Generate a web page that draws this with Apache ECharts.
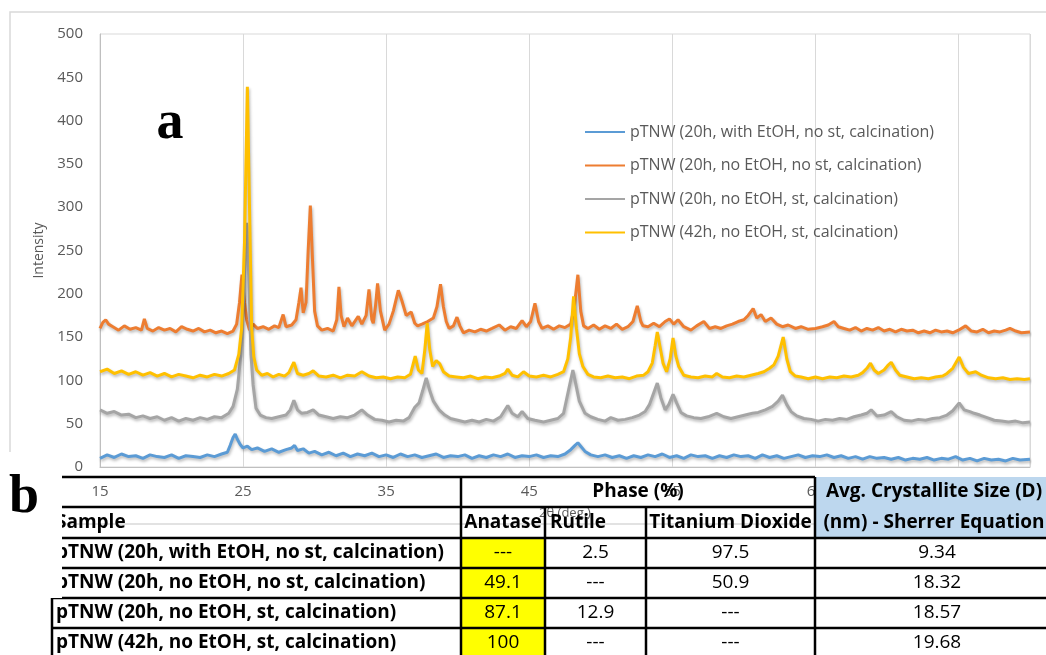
<!DOCTYPE html>
<html>
<head>
<meta charset="utf-8">
<script src="https://cdn.jsdelivr.net/npm/echarts@6/dist/echarts.min.js"></script>
<style>
  html, body { margin: 0; padding: 0; background: #ffffff; }
  #chart { width: 1046px; height: 655px; }
</style>
</head>
<body>
<div id="chart"></div>
<script>
// ---- Samples (legend entries and table rows) ----
const samples = [
  'pTNW (20h, with EtOH, no st, calcination)',
  'pTNW (20h, no EtOH, no st, calcination)',
  'pTNW (20h, no EtOH, st, calcination)',
  'pTNW (42h, no EtOH, st, calcination)'
];
const seriesColors = ['#5b9bd5', '#ed7d31', '#a5a5a5', '#ffc000'];

// ---- X axis: 2θ tick labels (first gridline sits at 15°) ----
const X0 = 15;
const xTickLabels = ['15', '25', '35', '45', '55', '65', '75'];

// ---- XRD patterns: [2θ (deg), intensity] ----
const ethanol20h = [
  [15,10],[15.5,14],[16,11],[16.5,15],[17,12],[17.5,13],[18,10],[18.5,14],[19,12],[19.5,11],
  [20,14],[20.5,10],[21,13],[21.5,12],[22,11],[22.5,14],[23,12],[23.5,15],[23.9,17],[24.1,25],
  [24.3,34],[24.45,38],[24.6,32],[24.8,26],[25,22],[25.3,24],[25.6,20],[26,22],[26.5,18],[27,21],
  [27.5,17],[28,20],[28.4,22],[28.6,25],[28.8,19],[29.2,21],[29.6,16],[30,18],[30.5,14],[31,17],
  [31.5,13],[32,16],[32.5,12],[33,15],[33.5,13],[34,16],[34.5,12],[35,14],[35.5,11],[36,15],
  [36.5,12],[37,14],[37.5,11],[38,13],[38.5,15],[39,11],[39.5,13],[40,12],[40.5,14],[41,10],
  [41.5,13],[42,11],[42.5,14],[43,12],[43.5,15],[44,11],[44.5,13],[45,12],[45.5,14],[46,11],
  [46.5,13],[47,12],[47.5,15],[47.9,20],[48.2,25],[48.4,28],[48.6,24],[48.9,18],[49.3,14],[49.8,12],
  [50.3,14],[50.8,11],[51.3,13],[51.8,10],[52.3,13],[52.8,11],[53.3,14],[53.8,12],[54.3,15],[54.8,11],
  [55.3,13],[55.8,10],[56.3,14],[56.8,12],[57.3,13],[57.8,10],[58.3,13],[58.8,11],[59.3,14],[59.8,12],
  [60.3,13],[60.8,10],[61.3,14],[61.8,11],[62.3,13],[62.8,10],[63.3,12],[63.8,14],[64.3,11],[64.8,13],
  [65.3,12],[65.8,14],[66.3,11],[66.8,13],[67.3,10],[67.8,12],[68.3,9],[68.8,12],[69.3,10],[69.8,11],
  [70.3,9],[70.8,11],[71.3,8],[71.8,10],[72.3,9],[72.8,11],[73.3,8],[73.8,10],[74.3,9],[74.8,12],
  [75.3,8],[75.8,10],[76.3,7],[76.8,10],[77.3,8],[77.8,9],[78.3,7],[78.8,10],[79.3,8],[80,9]
];
const noEthanol20h = [
  [15,160],[15.2,167],[15.4,170],[15.6,165],[15.9,162],[16.3,158],[16.7,163],[17.1,159],[17.5,161],[17.9,158],
  [18.1,171],[18.3,160],[18.7,157],[19.1,161],[19.5,158],[19.9,160],[20.3,156],[20.7,162],[21.1,159],[21.5,157],
  [21.9,160],[22.3,156],[22.7,158],[23.1,155],[23.5,157],[23.9,154],[24.3,157],[24.55,165],[24.75,190],[24.92,222],
  [25.1,190],[25.25,170],[25.45,158],[25.7,165],[26,160],[26.4,162],[26.8,159],[27.2,163],[27.5,161],[27.8,176],
  [28,162],[28.4,164],[28.7,170],[28.9,190],[29.05,207],[29.2,178],[29.4,190],[29.55,250],[29.7,302],[29.85,240],
  [30,180],[30.2,163],[30.5,158],[30.9,160],[31.3,157],[31.55,170],[31.7,208],[31.85,175],[32.05,162],[32.3,172],
  [32.6,163],[33.05,174],[33.3,165],[33.6,175],[33.8,205],[34,170],[34.1,166],[34.25,185],[34.4,212],[34.6,180],
  [34.9,158],[35.2,165],[35.5,180],[35.85,204],[36.1,192],[36.4,175],[36.75,179],[37,166],[37.2,163],[37.5,165],
  [37.9,168],[38.3,172],[38.55,185],[38.8,211],[39,185],[39.2,168],[39.4,160],[39.7,163],[39.95,173],[40.15,163],
  [40.4,155],[40.8,158],[41.2,156],[41.6,159],[42,157],[42.4,160],[42.9,164],[43.3,158],[43.7,162],[44.1,160],
  [44.5,169],[44.8,162],[45.1,168],[45.4,189],[45.65,168],[45.9,160],[46.3,163],[46.7,159],[47.1,163],[47.5,161],
  [47.9,165],[48.15,185],[48.4,222],[48.6,180],[48.8,163],[49.1,160],[49.5,164],[49.9,159],[50.3,163],[50.7,160],
  [51.1,165],[51.5,159],[51.9,162],[52.25,168],[52.55,186],[52.8,168],[52.95,163],[53.3,162],[53.7,166],[54.1,162],
  [54.5,168],[54.8,171],[55.1,165],[55.4,170],[55.8,162],[56.3,158],[56.7,163],[57.2,168],[57.6,160],[58,162],
  [58.4,160],[58.8,163],[59.2,165],[59.6,168],[60,170],[60.3,175],[60.65,183],[60.9,172],[61.2,176],[61.5,168],
  [61.9,172],[62.3,165],[62.7,162],[63.1,164],[63.6,160],[64,162],[64.5,159],[65,160],[65.5,162],[65.9,164],
  [66.3,168],[66.6,162],[67,160],[67.4,158],[67.8,161],[68.2,157],[68.6,160],[69,158],[69.4,161],[69.8,157],
  [70.2,159],[70.6,156],[71,159],[71.4,157],[71.8,158],[72.2,155],[72.6,157],[73,155],[73.4,158],[73.8,156],
  [74.2,157],[74.6,155],[75,158],[75.5,163],[75.9,157],[76.3,156],[76.7,159],[77.1,155],[77.5,157],[77.9,156],
  [78.3,158],[78.6,160],[79,157],[79.4,155],[80,156]
];
const stirred20h = [
  [15,66],[15.5,62],[16,64],[16.5,60],[17,61],[17.5,57],[18,59],[18.5,56],[19,58],[19.5,54],
  [20,57],[20.5,53],[21,56],[21.5,54],[22,57],[22.5,55],[23,58],[23.5,57],[24,62],[24.3,70],
  [24.6,90],[24.85,130],[25.05,200],[25.25,282],[25.4,220],[25.55,130],[25.7,95],[25.9,68],[26.2,60],[26.6,57],
  [27,56],[27.5,58],[28,60],[28.3,66],[28.55,77],[28.8,66],[29.1,62],[29.5,63],[29.9,66],[30.3,60],
  [30.8,58],[31.3,56],[31.8,58],[32.3,57],[32.8,60],[33.3,66],[33.7,60],[34.2,55],[34.7,54],[35.2,52],
  [35.7,54],[36.2,53],[36.6,57],[37,69],[37.3,74],[37.55,88],[37.8,103],[38.05,88],[38.3,76],[38.7,66],
  [39.1,60],[39.5,56],[40,54],[40.5,52],[41,54],[41.5,52],[42,55],[42.5,53],[43,58],[43.5,71],
  [43.8,62],[44.2,58],[44.5,64],[44.9,56],[45.4,54],[46,52],[46.5,54],[47,56],[47.4,62],[47.7,85],
  [48.05,112],[48.3,92],[48.5,76],[48.9,62],[49.3,58],[49.8,55],[50.3,53],[50.7,57],[51.2,54],[51.7,55],
  [52.2,57],[52.7,60],[53.1,64],[53.4,72],[53.95,97],[54.2,80],[54.5,66],[54.75,72],[55.05,84],[55.3,74],
  [55.6,63],[56,59],[56.5,57],[57,56],[57.5,58],[58.1,62],[58.6,58],[59.1,56],[59.6,58],[60.1,60],
  [60.6,62],[61,63],[61.5,66],[62,70],[62.4,76],[62.7,83],[63,72],[63.3,64],[63.7,59],[64.2,56],
  [64.7,55],[65.2,53],[65.7,55],[66.2,54],[66.7,56],[67.2,55],[67.7,58],[68.2,60],[68.6,62],[68.9,66],
  [69.3,59],[69.8,60],[70.3,64],[70.7,58],[71.2,54],[71.7,53],[72.2,55],[72.7,54],[73.2,56],[73.7,57],
  [74.2,60],[74.6,65],[75.05,74],[75.4,66],[75.8,64],[76.1,62],[76.5,60],[77,57],[77.5,54],[78,53],
  [78.5,52],[79,53],[79.5,51],[80,52]
];
const stirred42h = [
  [15,110],[15.5,113],[16,108],[16.5,111],[17,107],[17.5,110],[18,106],[18.5,109],[19,105],[19.5,108],
  [20,104],[20.5,107],[21,105],[21.5,103],[22,106],[22.5,104],[23,107],[23.5,105],[24,108],[24.4,112],
  [24.7,130],[24.9,160],[25.1,260],[25.3,439],[25.45,300],[25.6,160],[25.75,127],[25.95,112],[26.3,106],[26.7,108],
  [27.1,104],[27.5,107],[27.9,105],[28.2,109],[28.55,121],[28.8,108],[29.2,106],[29.6,108],[29.9,111],[30.3,105],
  [30.8,104],[31.3,106],[31.8,103],[32.3,106],[32.8,105],[33.3,110],[33.8,105],[34.3,103],[34.8,104],[35.3,102],
  [35.8,104],[36.3,103],[36.7,107],[37.03,128],[37.25,112],[37.5,108],[37.7,135],[37.87,166],[38.05,135],[38.25,116],
  [38.5,123],[38.75,119],[39,110],[39.4,105],[39.9,104],[40.4,103],[40.9,105],[41.4,102],[41.9,104],[42.4,103],
  [42.9,105],[43.3,108],[43.5,113],[43.8,106],[44.2,104],[44.6,110],[45,105],[45.5,104],[46,106],[46.5,104],
  [47,107],[47.4,110],[47.7,125],[47.9,150],[48.1,197],[48.3,160],[48.5,131],[48.75,116],[49.1,107],[49.5,104],
  [50,103],[50.5,105],[51,103],[51.5,104],[52,102],[52.5,105],[53,106],[53.3,110],[53.6,120],[53.8,140],
  [53.95,156],[54.15,138],[54.35,120],[54.6,110],[54.85,125],[55.05,149],[55.25,128],[55.45,116],[55.8,106],[56.3,104],
  [56.8,103],[57.3,105],[57.8,104],[58.1,108],[58.5,104],[59,103],[59.5,105],[60,104],[60.5,106],[61,108],
  [61.4,110],[61.8,114],[62.1,118],[62.4,128],[62.75,150],[63,125],[63.25,110],[63.6,105],[64,104],[64.5,102],
  [65,104],[65.5,102],[66,104],[66.5,103],[67,105],[67.5,104],[68,106],[68.3,109],[68.6,114],[68.85,120],
  [69.1,112],[69.4,108],[69.8,112],[70.05,117],[70.3,121],[70.6,112],[70.9,106],[71.4,104],[71.9,102],[72.4,103],
  [72.9,102],[73.4,104],[73.9,105],[74.2,108],[74.6,114],[75.05,127],[75.35,115],[75.7,108],[76.2,110],[76.6,106],
  [77.1,103],[77.6,102],[78.1,103],[78.6,101],[79.1,102],[79.6,101],[80,102]
];
const patterns = [ethanol20h, noEthanol20h, stirred20h, stirred42h];

// ---- Phase composition / crystallite size table ----
const phaseHeaders = ['Anatase', 'Rutile', 'Titanium Dioxide'];
const anatasePct = ['---', '49.1', '87.1', '100'];
const rutilePct = ['2.5', '---', '12.9', '---'];
const tio2Pct = ['97.5', '50.9', '---', '---'];
const crystalliteNm = ['9.34', '18.32', '18.57', '19.68'];

// ---- Table layout ----
const colX = [56, 461, 545, 646, 815, 1062];
const rowY = [477, 507, 538, 568, 598, 628, 658];
const TABLE_FONT = '"Open Sans", "Liberation Sans", sans-serif';
const TABLE_SIZE = 19;
const LINE_W = 2.5;

function hLine(y, x1, x2) {
  return { type: 'line', z: 101, shape: { x1: x1, y1: y, x2: x2, y2: y },
           style: { stroke: '#000', lineWidth: LINE_W } };
}
function vLine(x, y1, y2) {
  return { type: 'line', z: 101, shape: { x1: x, y1: y1, x2: x, y2: y2 },
           style: { stroke: '#000', lineWidth: LINE_W } };
}
function cellText(text, x, y, align, bold) {
  return { type: 'text', z: 102, x: x, y: y,
           style: { text: text, fill: '#000',
                    font: (bold ? 'bold ' : '') + TABLE_SIZE + 'px ' + TABLE_FONT,
                    textAlign: align, textVerticalAlign: 'middle',
                    align: align, verticalAlign: 'middle' } };
}

function buildTable() {
  const els = [];
  const midRow = i => (rowY[i] + rowY[i + 1]) / 2;
  const midCol = j => (colX[j] + colX[j + 1]) / 2;
  // cell fills
  els.push({ type: 'rect', z: 100, shape: { x: colX[4], y: rowY[0], width: 240, height: rowY[2] - rowY[0] },
             style: { fill: '#bdd7ee' } });
  anatasePct.forEach((v, i) => {
    els.push({ type: 'rect', z: 100,
               shape: { x: colX[1], y: rowY[i + 2], width: colX[2] - colX[1], height: rowY[i + 3] - rowY[i + 2] },
               style: { fill: '#ffff00' } });
  });
  // rules
  els.push(hLine(rowY[0], 62, colX[4]));
  els.push(hLine(rowY[1], 62, colX[4]));
  els.push(hLine(rowY[2], 62, 1046));
  els.push(hLine(rowY[3], 62, 1046));
  els.push(hLine(rowY[4], 52, 1046));
  els.push(hLine(rowY[5], 52, 1046));
  els.push(vLine(colX[1], rowY[0], 655));
  els.push(vLine(colX[2], rowY[1], 655));
  els.push(vLine(colX[3], rowY[1], 655));
  els.push(vLine(colX[4], rowY[0], 655));
  els.push(vLine(52, rowY[4], 655));
  // headers
  els.push(cellText('Phase (%)', (colX[1] + colX[4]) / 2, midRow(0), 'center', true));
  els.push(cellText('Avg. Crystallite Size (D)', 934, midRow(0), 'center', true));
  els.push(cellText('(nm) - Sherrer Equation', 934, midRow(1), 'center', true));
  els.push(cellText('Sample', colX[0], midRow(1), 'left', true));
  els.push(cellText(phaseHeaders[0], midCol(1), midRow(1), 'center', true));
  els.push(cellText(phaseHeaders[1], colX[2] + 5, midRow(1), 'left', true));
  els.push(cellText(phaseHeaders[2], midCol(3), midRow(1), 'center', true));
  // body
  samples.forEach((name, i) => {
    const y = midRow(i + 2);
    els.push(cellText(name, colX[0], y, 'left', true));
    els.push(cellText(anatasePct[i], midCol(1), y, 'center', false));
    els.push(cellText(rutilePct[i], midCol(2), y, 'center', false));
    els.push(cellText(tio2Pct[i], midCol(3), y, 'center', false));
    els.push(cellText(crystalliteNm[i], 937, y, 'center', false));
  });
  return els;
}

const chart = echarts.init(document.getElementById('chart'), null, { renderer: 'canvas' });

const AXIS_TEXT = { color: '#595959', fontFamily: '"Open Sans", sans-serif', fontSize: 15 };

const option = {
  animation: false,
  backgroundColor: '#ffffff',
  grid: { left: 100, right: 16, top: 34, bottom: 188, show: true, borderColor: '#d9d9d9', borderWidth: 1 },
  legend: {
    orient: 'vertical', left: 585, top: 122, padding: 0,
    icon: 'rect', itemWidth: 40, itemHeight: 2, itemGap: 13.5,
    textStyle: { color: '#595959', fontFamily: '"Open Sans", sans-serif', fontSize: 16, lineHeight: 20 },
    data: samples
  },
  xAxis: {
    type: 'value', min: 0, max: 80 - X0, interval: 10,
    name: '2θ (deg.)', nameLocation: 'middle', nameGap: 40,
    nameTextStyle: { color: '#595959', fontFamily: '"Open Sans", sans-serif', fontSize: 13 },
    axisLine: { show: true, lineStyle: { color: '#bfbfbf', width: 1 } },
    axisTick: { show: false },
    axisLabel: Object.assign({ margin: 17, showMaxLabel: false,
      formatter: v => xTickLabels[Math.round(v / 10)] || '' }, AXIS_TEXT),
    splitLine: { show: true, lineStyle: { color: '#d9d9d9', width: 1 } }
  },
  yAxis: {
    type: 'value', min: 0, max: 500, interval: 50,
    name: 'Intensity', nameLocation: 'middle', nameGap: 54,
    nameTextStyle: { color: '#595959', fontFamily: '"Open Sans", sans-serif', fontSize: 14 },
    axisLine: { show: true, lineStyle: { color: '#bfbfbf', width: 1 } },
    axisTick: { show: false },
    axisLabel: Object.assign({ margin: 17 }, AXIS_TEXT),
    splitLine: { show: false }
  },
  series: patterns.map((pts, k) => ({
    name: samples[k],
    type: 'line',
    symbol: 'none',
    showSymbol: false,
    color: seriesColors[k],
    lineStyle: { width: 3, color: seriesColors[k],
                 shadowColor: 'rgba(0,0,0,0.28)', shadowBlur: 3, shadowOffsetY: 2, shadowOffsetX: 1 },
    data: pts.map(p => [p[0] - X0, p[1]])
  })),
  graphic: [
    // outer chart-area frame
    { type: 'rect', z: 0, shape: { x: 10, y: 12, width: 1100, height: 512 },
      style: { fill: 'none', stroke: '#d9d9d9', lineWidth: 1.5 } },
    ...buildTable(),
    // left margin below the plot
    { type: 'rect', z: 103, shape: { x: 0, y: 452, width: 62, height: rowY[4] - 452 },
      style: { fill: '#ffffff' } },
    // panel letters
    { type: 'text', z: 104, x: 170, y: 124,
      style: { text: 'a', fill: '#000', font: 'bold 54px "Liberation Serif", serif',
               textAlign: 'center', textVerticalAlign: 'middle', align: 'center', verticalAlign: 'middle' } },
    { type: 'text', z: 104, x: 24, y: 498,
      style: { text: 'b', fill: '#000', font: 'bold 54px "Liberation Serif", serif',
               textAlign: 'center', textVerticalAlign: 'middle', align: 'center', verticalAlign: 'middle' } }
  ]
};

chart.setOption(option);
</script>
</body>
</html>
